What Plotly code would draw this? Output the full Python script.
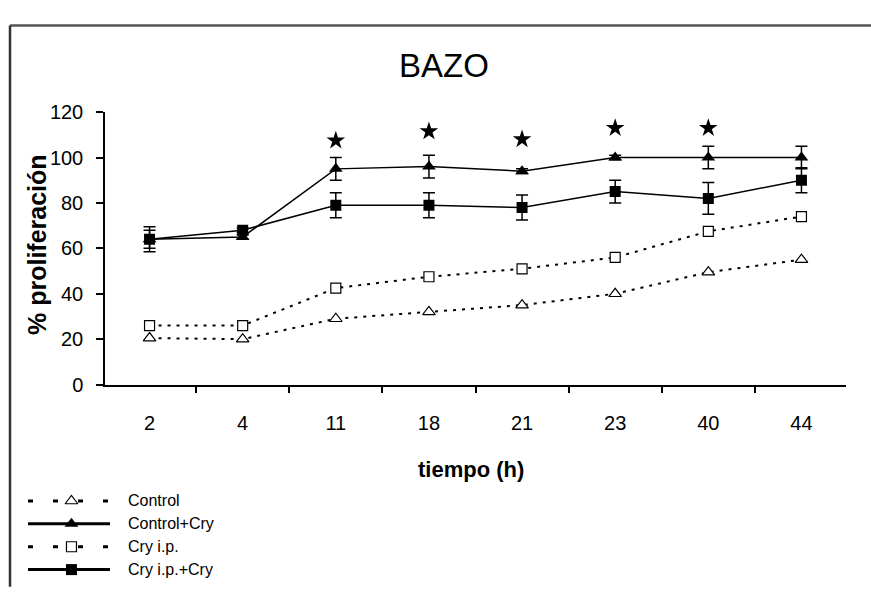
import plotly.graph_objects as go

# Hours sampled
tiempo = ["2", "4", "11", "18", "21", "23", "40", "44"]

# % proliferation per group
control = [20.5, 20, 29, 32, 35, 40, 49.5, 55]
control_cry = [64, 65, 95, 96, 94, 100, 100, 100]
control_cry_err = [4, 1, 5, 5, 1, 1, 5, 5]
cry_ip = [26, 26, 42.5, 47.5, 51, 56, 67.5, 74]
cry_ip_cry = [64, 68, 79, 79, 78, 85, 82, 90]
cry_ip_cry_err = [5.5, 1, 5.5, 5.5, 5.5, 5, 7, 5.5]

# Significance marks (hour, height of the star)
star_hours = ["11", "18", "21", "23", "40"]
star_heights = [107.5, 111.5, 108, 113, 113]

y_ticks = [0, 20, 40, 60, 80, 100, 120]
legend_names = ["Control", "Control+Cry", "Cry i.p.", "Cry i.p.+Cry"]

W, H = 871, 593
SANS = "Liberation Sans, Arial, sans-serif"


def px(x):
    return x / W


def py(y):
    return 1 - y / H


dotted = dict(color="black", width=2, dash="3px,6px")
solid = dict(color="black", width=1.5)

fig = go.Figure()

fig.add_trace(go.Scatter(
    x=tiempo, y=control, mode="lines+markers", line=dotted,
    marker=dict(symbol="triangle-up", size=11, color="white",
                line=dict(color="black", width=1.2)),
))
fig.add_trace(go.Scatter(
    x=tiempo, y=cry_ip, mode="lines+markers", line=dotted,
    marker=dict(symbol="square", size=10, color="white",
                line=dict(color="black", width=1.2)),
))
fig.add_trace(go.Scatter(
    x=tiempo, y=control_cry, mode="lines+markers", line=solid,
    marker=dict(symbol="triangle-up", size=12, color="black"),
    error_y=dict(type="data", array=control_cry_err, visible=True,
                 color="black", thickness=1.5, width=6),
))
fig.add_trace(go.Scatter(
    x=tiempo, y=cry_ip_cry, mode="lines+markers", line=solid,
    marker=dict(symbol="square", size=11, color="black"),
    error_y=dict(type="data", array=cry_ip_cry_err, visible=True,
                 color="black", thickness=1.5, width=6),
))
fig.add_trace(go.Scatter(
    x=star_hours, y=star_heights, mode="markers",
    marker=dict(symbol="star", size=14, color="black"),
))

# Legend samples drawn on their own small axes
legend_dash = dict(color="black", width=3, dash="5px,20px")
legend_styles = [
    (legend_dash,
     dict(symbol="triangle-up", size=11, color="white", line=dict(color="black", width=1.2))),
    (dict(color="black", width=3),
     dict(symbol="triangle-up", size=12, color="black")),
    (legend_dash,
     dict(symbol="square", size=10, color="white", line=dict(color="black", width=1.2))),
    (dict(color="black", width=3),
     dict(symbol="square", size=11, color="black")),
]
for i, (ln, mk) in enumerate(legend_styles):
    fig.add_trace(go.Scatter(x=[0, 1], y=[i, i], mode="lines", line=ln,
                             xaxis="x2", yaxis="y2"))
    fig.add_trace(go.Scatter(x=[0.53], y=[i], mode="markers", marker=mk,
                             xaxis="x2", yaxis="y2"))

annotations = [
    dict(text="BAZO", x=px(444), y=py(57), xref="paper", yref="paper",
         xanchor="center", yanchor="middle", showarrow=False,
         font=dict(family=SANS, size=33, color="black")),
    dict(text="<b>% proliferación</b>", x=px(37), y=py(243), xref="paper", yref="paper",
         xanchor="center", yanchor="middle", showarrow=False, textangle=-90,
         font=dict(family=SANS, size=25, color="black")),
    dict(text="<b>tiempo (h)</b>", x=px(471), y=py(476), xref="paper", yref="paper",
         xanchor="center", yanchor="middle", showarrow=False,
         font=dict(family=SANS, size=22, color="black")),
]
for i, name in enumerate(legend_names):
    annotations.append(dict(text=name, x=px(126), y=i, xref="paper", yref="y2",
                            xanchor="left", yanchor="middle", showarrow=False,
                            font=dict(family=SANS, size=16, color="black")))

fig.update_layout(
    width=W, height=H,
    margin=dict(l=0, r=0, t=0, b=0),
    paper_bgcolor="white", plot_bgcolor="white",
    showlegend=False,
    xaxis=dict(
        domain=[px(105), px(846)], type="category",
        showline=True, linecolor="black", linewidth=1.5,
        ticks="outside", ticklen=7, tickwidth=1.5, tickcolor="black",
        tickson="boundaries", showgrid=False, zeroline=False,
        tickfont=dict(family=SANS, size=20, color="black"),
        ticklabelstandoff=20,
    ),
    yaxis=dict(
        domain=[py(388), py(105)], range=[0, 120], tickvals=y_ticks,
        showline=True, linecolor="black", linewidth=1.5,
        ticks="outside", ticklen=7, tickwidth=1.5, tickcolor="black",
        showgrid=False, zeroline=False,
        tickfont=dict(family=SANS, size=20, color="black"),
        ticklabelstandoff=9,
    ),
    xaxis2=dict(domain=[px(28), px(110)], range=[0, 1], visible=False,
                anchor="y2"),
    yaxis2=dict(domain=[py(592), py(497)], range=[3.5, -0.5], visible=False,
                anchor="x2"),
    annotations=annotations,
    shapes=[
        dict(type="line", xref="paper", yref="paper",
             x0=px(10), x1=px(W + 5), y0=py(15), y1=py(15),
             line=dict(color="#555555", width=2.5)),
        dict(type="line", xref="paper", yref="paper",
             x0=px(10), x1=px(10), y0=py(15), y1=py(H + 5),
             line=dict(color="#333333", width=2.5)),
    ],
)

fig.write_html("out.html")
